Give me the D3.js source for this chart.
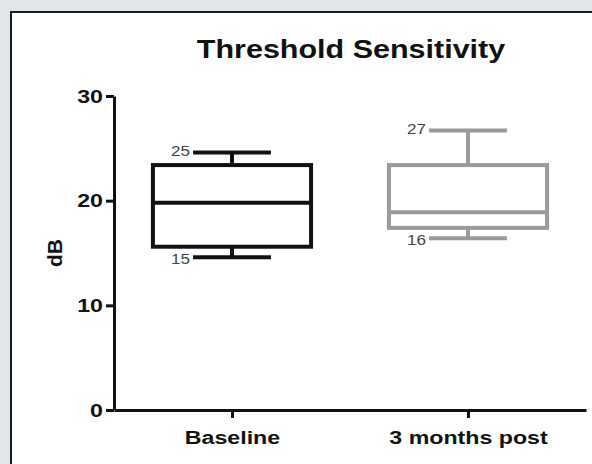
<!DOCTYPE html>
<html>
<head>
<meta charset="utf-8">
<script src="https://cdn.jsdelivr.net/npm/d3@7"></script>
<style>
  html, body { margin: 0; padding: 0; background: #e3e6e8; }
  svg { display: block; }
  .axis text { font-family: "Liberation Sans", Arial, sans-serif; font-weight: bold; fill: #111; }
</style>
</head>
<body>
<svg id="chart" width="592" height="464"></svg>
<script>
// box plot values
const categories = ["Baseline", "3 months post"];
const mins    = [14.6, 16.4];
const q1s     = [15.6, 17.4];
const medians = [19.8, 18.9];
const q3s     = [23.4, 23.4];
const maxs    = [24.6, 26.7];
const maxLabels = ["25", "27"];
const minLabels = ["15", "16"];
const colors  = ["#111111", "#9a9a9a"];
const yTicks  = [0, 10, 20, 30];

const SX = 1.22; // the original picture is a bit wider than tall

// widen text horizontally around its own anchor
function stretch(sel) {
  sel.each(function() {
    const t = d3.select(this);
    const x0 = +(t.attr("x") || 0);
    const y0 = +(t.attr("y") || 0);
    t.attr("x", 0).attr("y", 0)
     .attr("transform", (t.attr("transform") || "") + " translate(" + x0 + "," + y0 + ") scale(" + SX + ",1)");
  });
}

const svg = d3.select("#chart");

// white panel with dark frame
svg.append("rect")
   .attr("x", 11).attr("y", 12)
   .attr("width", 600).attr("height", 470)
   .attr("fill", "#fff")
   .attr("stroke", "#1b1b1b")
   .attr("stroke-width", 2);

const x = d3.scalePoint().domain(categories).range([114, 586]).padding(0.5);
const y = d3.scaleLinear().domain([0, 30]).range([410, 96]);
const step = x.step();

svg.append("text")
   .attr("x", 351).attr("y", 58)
   .attr("text-anchor", "middle")
   .style("font-family", "Liberation Sans, Arial, sans-serif")
   .style("font-weight", "bold")
   .style("font-size", "25px")
   .attr("fill", "#111")
   .text("Threshold Sensitivity")
   .call(stretch);

// y axis
const yAxis = svg.append("g")
   .attr("class", "axis")
   .attr("transform", "translate(114,0)")
   .call(d3.axisLeft(y).tickValues(yTicks).tickSize(8).tickSizeOuter(0).tickPadding(3));
yAxis.selectAll("path, line").attr("stroke", "#111").attr("stroke-width", 3);
yAxis.selectAll("text").style("font-size", "19px").call(stretch);

// x axis
const xAxis = svg.append("g")
   .attr("class", "axis")
   .attr("transform", "translate(0,410)")
   .call(d3.axisBottom(x).tickSize(8).tickSizeOuter(0).tickPadding(12));
xAxis.selectAll("path, line").attr("stroke", "#111").attr("stroke-width", 3);
xAxis.selectAll("text").style("font-size", "19px").call(stretch);

svg.append("text")
   .attr("transform", "translate(62," + y(15) + ") rotate(-90)")
   .attr("text-anchor", "middle")
   .style("font-family", "Liberation Sans, Arial, sans-serif")
   .style("font-weight", "bold")
   .style("font-size", "21px")
   .attr("fill", "#111")
   .text("dB");

// boxes
const boxW = step * 0.67;
const capW = step * 0.33;
const boxes = svg.append("g").selectAll("g")
   .data(categories)
   .join("g")
   .attr("stroke", (d, i) => colors[i])
   .attr("stroke-width", 4)
   .attr("fill", "none");

boxes.append("rect")
   .attr("x", d => x(d) - boxW / 2)
   .attr("y", (d, i) => y(q3s[i]))
   .attr("width", boxW)
   .attr("height", (d, i) => y(q1s[i]) - y(q3s[i]));

boxes.append("line")
   .attr("x1", d => x(d) - boxW / 2).attr("x2", d => x(d) + boxW / 2)
   .attr("y1", (d, i) => y(medians[i])).attr("y2", (d, i) => y(medians[i]));

// whiskers
boxes.append("line")
   .attr("x1", d => x(d)).attr("x2", d => x(d))
   .attr("y1", (d, i) => y(q3s[i])).attr("y2", (d, i) => y(maxs[i]));
boxes.append("line")
   .attr("x1", d => x(d)).attr("x2", d => x(d))
   .attr("y1", (d, i) => y(q1s[i])).attr("y2", (d, i) => y(mins[i]));
boxes.append("line")
   .attr("x1", d => x(d) - capW / 2).attr("x2", d => x(d) + capW / 2)
   .attr("y1", (d, i) => y(maxs[i])).attr("y2", (d, i) => y(maxs[i]));
boxes.append("line")
   .attr("x1", d => x(d) - capW / 2).attr("x2", d => x(d) + capW / 2)
   .attr("y1", (d, i) => y(mins[i])).attr("y2", (d, i) => y(mins[i]));

// min / max annotations
const ann = svg.append("g")
   .style("font-family", "Liberation Sans, Arial, sans-serif")
   .style("font-size", "14px")
   .attr("fill", "#444")
   .attr("text-anchor", "end");
ann.selectAll(".mx").data(categories).join("text")
   .attr("x", d => x(d) - capW / 2 - 3)
   .attr("y", (d, i) => y(maxs[i]) + 3)
   .text((d, i) => maxLabels[i])
   .call(stretch);
ann.selectAll(".mn").data(categories).join("text")
   .attr("x", d => x(d) - capW / 2 - 3)
   .attr("y", (d, i) => y(mins[i]) + 7)
   .text((d, i) => minLabels[i])
   .call(stretch);
</script>
</body>
</html>
